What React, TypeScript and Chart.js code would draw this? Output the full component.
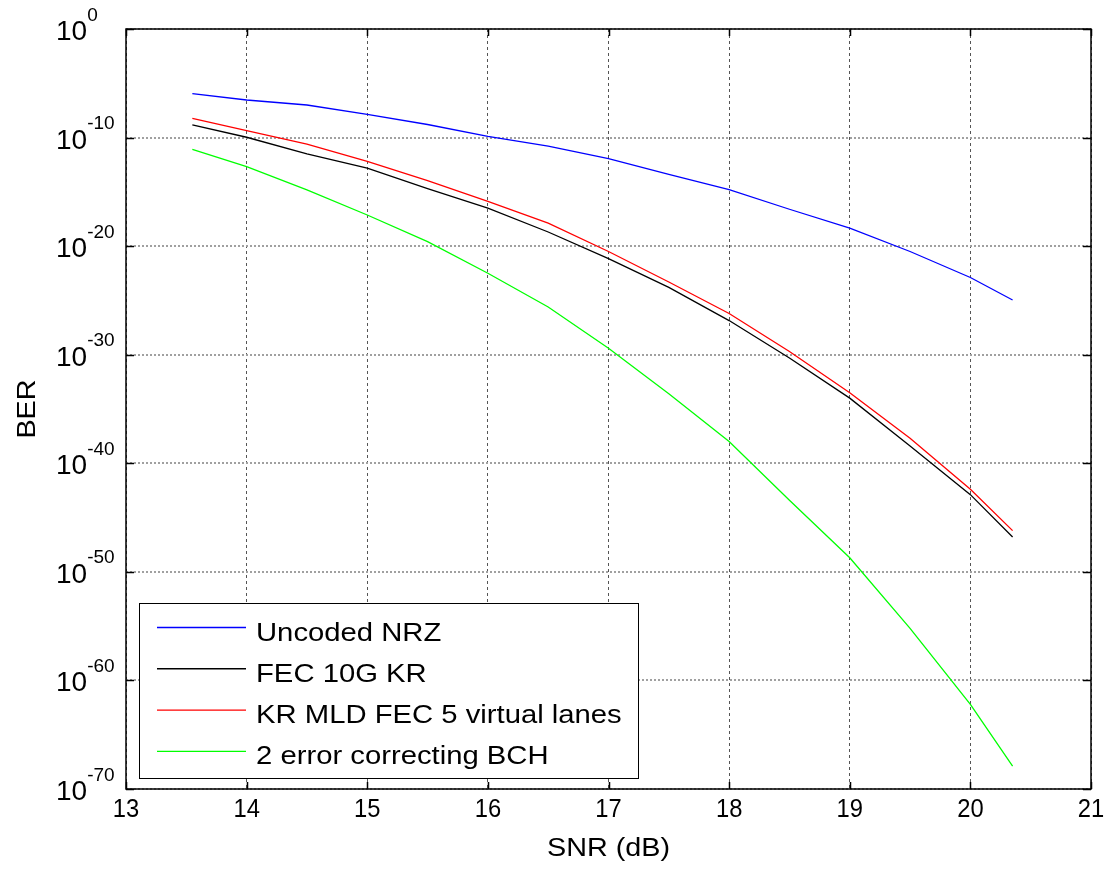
import React, { useEffect, useRef } from "react";
import { Chart, registerables } from "chart.js";

Chart.register(...registerables);

// ---- data ----
const snrDb = [13.55, 14, 14.5, 15, 15.5, 16, 16.5, 17, 17.5, 18, 18.5, 19, 19.5, 20, 20.35];

const uncodedNrz = [1.1e-6, 2.9e-7, 1.0e-7, 1.4e-8, 1.6e-9, 1.3e-10, 1.6e-11, 1.15e-12, 4.0e-14, 1.6e-15, 2.5e-17, 4.5e-19, 3.2e-21, 1.3e-23, 1.1e-25];
const fec10gKr = [1.45e-9, 1.07e-10, 3.2e-12, 1.5e-13, 2.0e-15, 3.2e-17, 2.0e-19, 7.1e-22, 1.6e-24, 1.4e-27, 5.0e-31, 1.0e-34, 4.0e-39, 1.3e-43, 1.6e-47];
const krMldFec5 = [6.0e-9, 4.4e-10, 2.5e-11, 6.3e-13, 1.1e-14, 1.3e-16, 1.3e-18, 3.2e-21, 5.0e-24, 6.3e-27, 2.0e-30, 3.2e-34, 2.0e-38, 4.0e-43, 6.3e-47];
const bch2 = [8.3e-12, 2.1e-13, 1.5e-15, 7.4e-18, 2.6e-20, 3.2e-23, 2.5e-26, 4.0e-30, 2.5e-34, 1.0e-38, 4.0e-44, 2.0e-49, 6.3e-56, 6.3e-63, 1.3e-68];

const seriesLabels = ["Uncoded NRZ", "FEC 10G KR", "KR MLD FEC 5 virtual lanes", "2 error correcting BCH"];
const seriesValues = [uncodedNrz, fec10gKr, krMldFec5, bch2];
const seriesColors = ["#0000ff", "#000000", "#ff0000", "#00ff00"];

const xTickValues = [13, 14, 15, 16, 17, 18, 19, 20, 21];
const yTickExponents = [0, -10, -20, -30, -40, -50, -60, -70];
const xAxisTitle = "SNR (dB)";
const yAxisTitle = "BER";

const FONT = '"Liberation Sans", Arial, Helvetica, sans-serif';

function drawText(
  ctx: CanvasRenderingContext2D,
  text: string,
  x: number,
  y: number,
  size: number,
  sx: number,
  align: CanvasTextAlign,
  rot = 0
) {
  ctx.save();
  ctx.font = `${size}px ${FONT}`;
  ctx.translate(x, y);
  if (rot) ctx.rotate(rot);
  ctx.scale(sx, 1);
  ctx.textAlign = align;
  ctx.textBaseline = "alphabetic";
  ctx.fillStyle = "#000";
  ctx.fillText(text, 0, 0);
  ctx.restore();
}

const decorPlugin = {
  id: "matlabDecor",
  afterDraw(chart: any) {
    const ctx: CanvasRenderingContext2D = chart.ctx;
    const { left, right, top, bottom } = chart.chartArea;
    const xs = chart.scales.x;
    const ys = chart.scales.y;

    // axes box
    ctx.save();
    ctx.strokeStyle = "#000";
    ctx.lineWidth = 1.5;
    ctx.strokeRect(left, top, right - left, bottom - top);

    // inward ticks
    ctx.beginPath();
    xTickValues.forEach((v) => {
      const px = Math.round(xs.getPixelForValue(v)) + 0.5;
      ctx.moveTo(px, bottom);
      ctx.lineTo(px, bottom - 7);
      ctx.moveTo(px, top);
      ctx.lineTo(px, top + 7);
    });
    yTickExponents.forEach((e) => {
      const py = Math.round(ys.getPixelForValue(Number("1e" + e))) + 0.5;
      ctx.moveTo(left, py);
      ctx.lineTo(left + 8, py);
      ctx.moveTo(right, py);
      ctx.lineTo(right - 8, py);
    });
    ctx.stroke();
    ctx.restore();

    // y tick labels 10^e
    yTickExponents.forEach((e) => {
      const py = ys.getPixelForValue(Number("1e" + e));
      const baseX = 56;
      ctx.save();
      ctx.font = `28px ${FONT}`;
      const w = ctx.measureText("10").width;
      ctx.restore();
      drawText(ctx, "10", baseX, py + 11, 28, 1, "left");
      drawText(ctx, String(e), baseX + w, py - 8.5, 19, 1, "left");
    });

    // x tick labels
    xTickValues.forEach((v) => {
      const px = xs.getPixelForValue(v);
      drawText(ctx, String(v), px, 817, 25, 0.95, "center");
    });

    // axis titles
    drawText(ctx, xAxisTitle, (left + right) / 2, 856, 25, 1.15, "center");
    drawText(ctx, yAxisTitle, 35, (top + bottom) / 2, 25, 1.15, "center", -Math.PI / 2);

    // legend box
    const lx = 139.5, ly = 603.5, lw = 499, lh = 175;
    ctx.save();
    ctx.fillStyle = "#fff";
    ctx.fillRect(lx, ly, lw, lh);
    ctx.strokeStyle = "#000";
    ctx.lineWidth = 1;
    ctx.strokeRect(lx, ly, lw, lh);
    ctx.restore();
    chart.data.datasets.forEach((ds: any, i: number) => {
      const rowY = 627.5 + i * 41.3;
      ctx.save();
      ctx.strokeStyle = ds.borderColor;
      ctx.lineWidth = 1.4;
      ctx.beginPath();
      ctx.moveTo(157, rowY);
      ctx.lineTo(246, rowY);
      ctx.stroke();
      ctx.restore();
      drawText(ctx, ds.label, 256, rowY + 13, 25, 1.17, "left");
    });
  },
};

export default function App() {
  const ref = useRef<HTMLCanvasElement | null>(null);

  useEffect(() => {
    if (!ref.current) return;
    const chart = new Chart(ref.current, {
      type: "line",
      data: {
        datasets: seriesValues.map((vals, i) => ({
          label: seriesLabels[i],
          data: snrDb.map((x, j) => ({ x, y: vals[j] })),
          borderColor: seriesColors[i],
          backgroundColor: seriesColors[i],
          borderWidth: 1.3,
          pointRadius: 0,
          fill: false,
          tension: 0,
        })),
      },
      options: {
        responsive: false,
        animation: false,
        devicePixelRatio: 1,
        layout: { padding: { left: 126, right: 15, top: 29, bottom: 80 } },
        plugins: {
          legend: { display: false },
          tooltip: { enabled: false },
          title: { display: false },
        },
        scales: {
          x: {
            type: "linear",
            min: 13,
            max: 21,
            ticks: { display: false, stepSize: 1 },
            grid: { drawTicks: false, color: "#555", lineWidth: 1 },
            border: { display: false, dash: [3, 3] },
          },
          y: {
            type: "logarithmic",
            min: 1e-70,
            max: 1,
            ticks: { display: false },
            afterBuildTicks: (scale: any) => {
              scale.ticks = yTickExponents.map((e) => ({ value: Number("1e" + e) }));
            },
            grid: { drawTicks: false, color: "#a0a0a0", lineWidth: 2 },
            border: { display: false, dash: [2, 2] },
          },
        },
      } as any,
      plugins: [decorPlugin],
    });
    return () => chart.destroy();
  }, []);

  return (
    <div style={{ position: "fixed", left: 0, top: 0, width: 1106, height: 869, background: "#fff" }}>
      <canvas ref={ref} width={1106} height={869} style={{ display: "block" }} />
    </div>
  );
}
